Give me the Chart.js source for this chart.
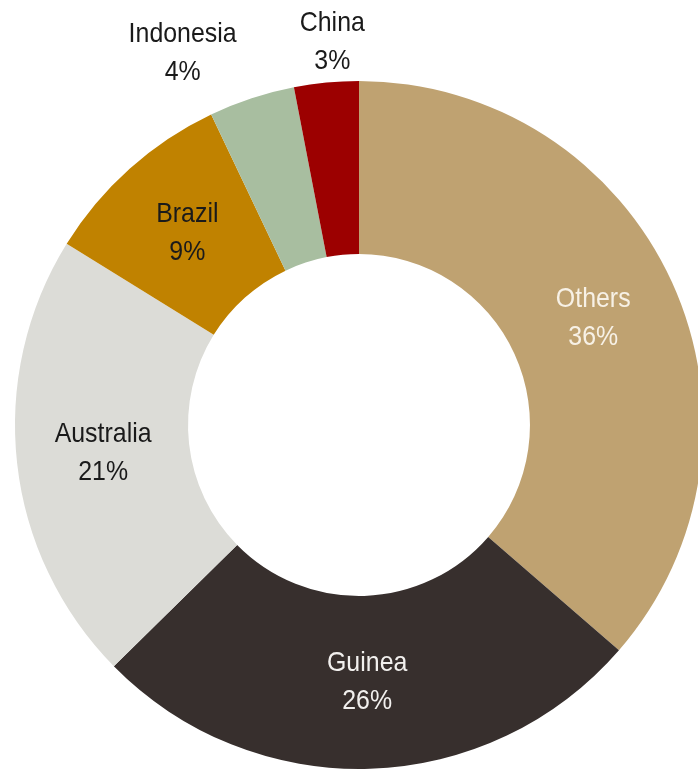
<!DOCTYPE html>
<html>
<head>
<meta charset="utf-8">
<script src="https://cdn.jsdelivr.net/npm/chart.js@4/dist/chart.umd.min.js"></script>
<style>
  html, body { margin: 0; padding: 0; background: #fff; }
  body { width: 698px; height: 769px; overflow: hidden; position: relative; }
  #wrap { position: absolute; left: 0; top: 0; width: 718px; height: 850px; }
</style>
</head>
<body>
<div id="wrap"><canvas id="dona"></canvas></div>
<script>
// Producción por país (%)
const paises = ['Others', 'Guinea', 'Australia', 'Brazil', 'Indonesia', 'China'];
const porcentajes = [36, 26, 21, 9, 4, 3];
const colores = ['#BFA271', '#372F2D', '#DCDCD7', '#C08200', '#A8BEA0', '#9C0000'];
const coloresTexto = ['#F7F1E6', '#F2F0EE', '#1A1A1A', '#1A1A1A', '#1A1A1A', '#1A1A1A'];

// Etiquetas dentro de cada porción (o fuera, para las pequeñas)
const etiquetasPlugin = {
    id: 'etiquetas',
    afterDatasetsDraw(chart, args, opts) {
        const ctx = chart.ctx;
        const meta = chart.getDatasetMeta(0);
        ctx.save();
        ctx.font = opts.size + 'px "Liberation Sans", Arial, sans-serif';
        ctx.textAlign = 'center';
        ctx.textBaseline = 'middle';
        meta.data.forEach((arco, i) => {
            const p = arco.getProps(['x', 'y', 'startAngle', 'endAngle', 'innerRadius', 'outerRadius'], true);
            const medio = (p.startAngle + p.endAngle) / 2;
            let x, y;
            const fuera = opts.fuera[i];
            if (fuera) {
                x = p.x + Math.cos(medio) * p.outerRadius + fuera.dx;
                y = p.y + Math.sin(medio) * p.outerRadius + fuera.dy;
            } else {
                const r = (p.innerRadius + p.outerRadius) / 2;
                x = p.x + Math.cos(medio) * r;
                y = p.y + Math.sin(medio) * r;
            }
            const lineas = [paises[i], porcentajes[i] + '%'];
            ctx.fillStyle = coloresTexto[i];
            lineas.forEach((t, k) => {
                ctx.save();
                ctx.translate(x, y + (k - 0.5) * opts.interlineado);
                ctx.scale(opts.estrecho, 1);
                ctx.fillText(t, 0, 0);
                ctx.restore();
            });
        });
        ctx.restore();
    }
};

const ctx = document.getElementById('dona').getContext('2d');
const grafico = new Chart(ctx, {
    type: 'doughnut',
    data: {
        labels: paises,
        datasets: [{
            data: porcentajes,
            backgroundColor: colores,
            borderWidth: 0
        }]
    },
    options: {
        responsive: true,
        maintainAspectRatio: false,
        animation: false,
        cutout: '49.7%',
        layout: { padding: { left: 15, right: 15, top: 81, bottom: 81 } },
        plugins: {
            legend: { display: false },
            tooltip: { enabled: false },
            etiquetas: {
                size: 28,
                interlineado: 38,
                estrecho: 0.89,
                fuera: { 4: { dx: -69, dy: -45 }, 5: { dx: 6, dy: -40 } }
            }
        }
    },
    plugins: [etiquetasPlugin]
});
</script>
</body>
</html>
